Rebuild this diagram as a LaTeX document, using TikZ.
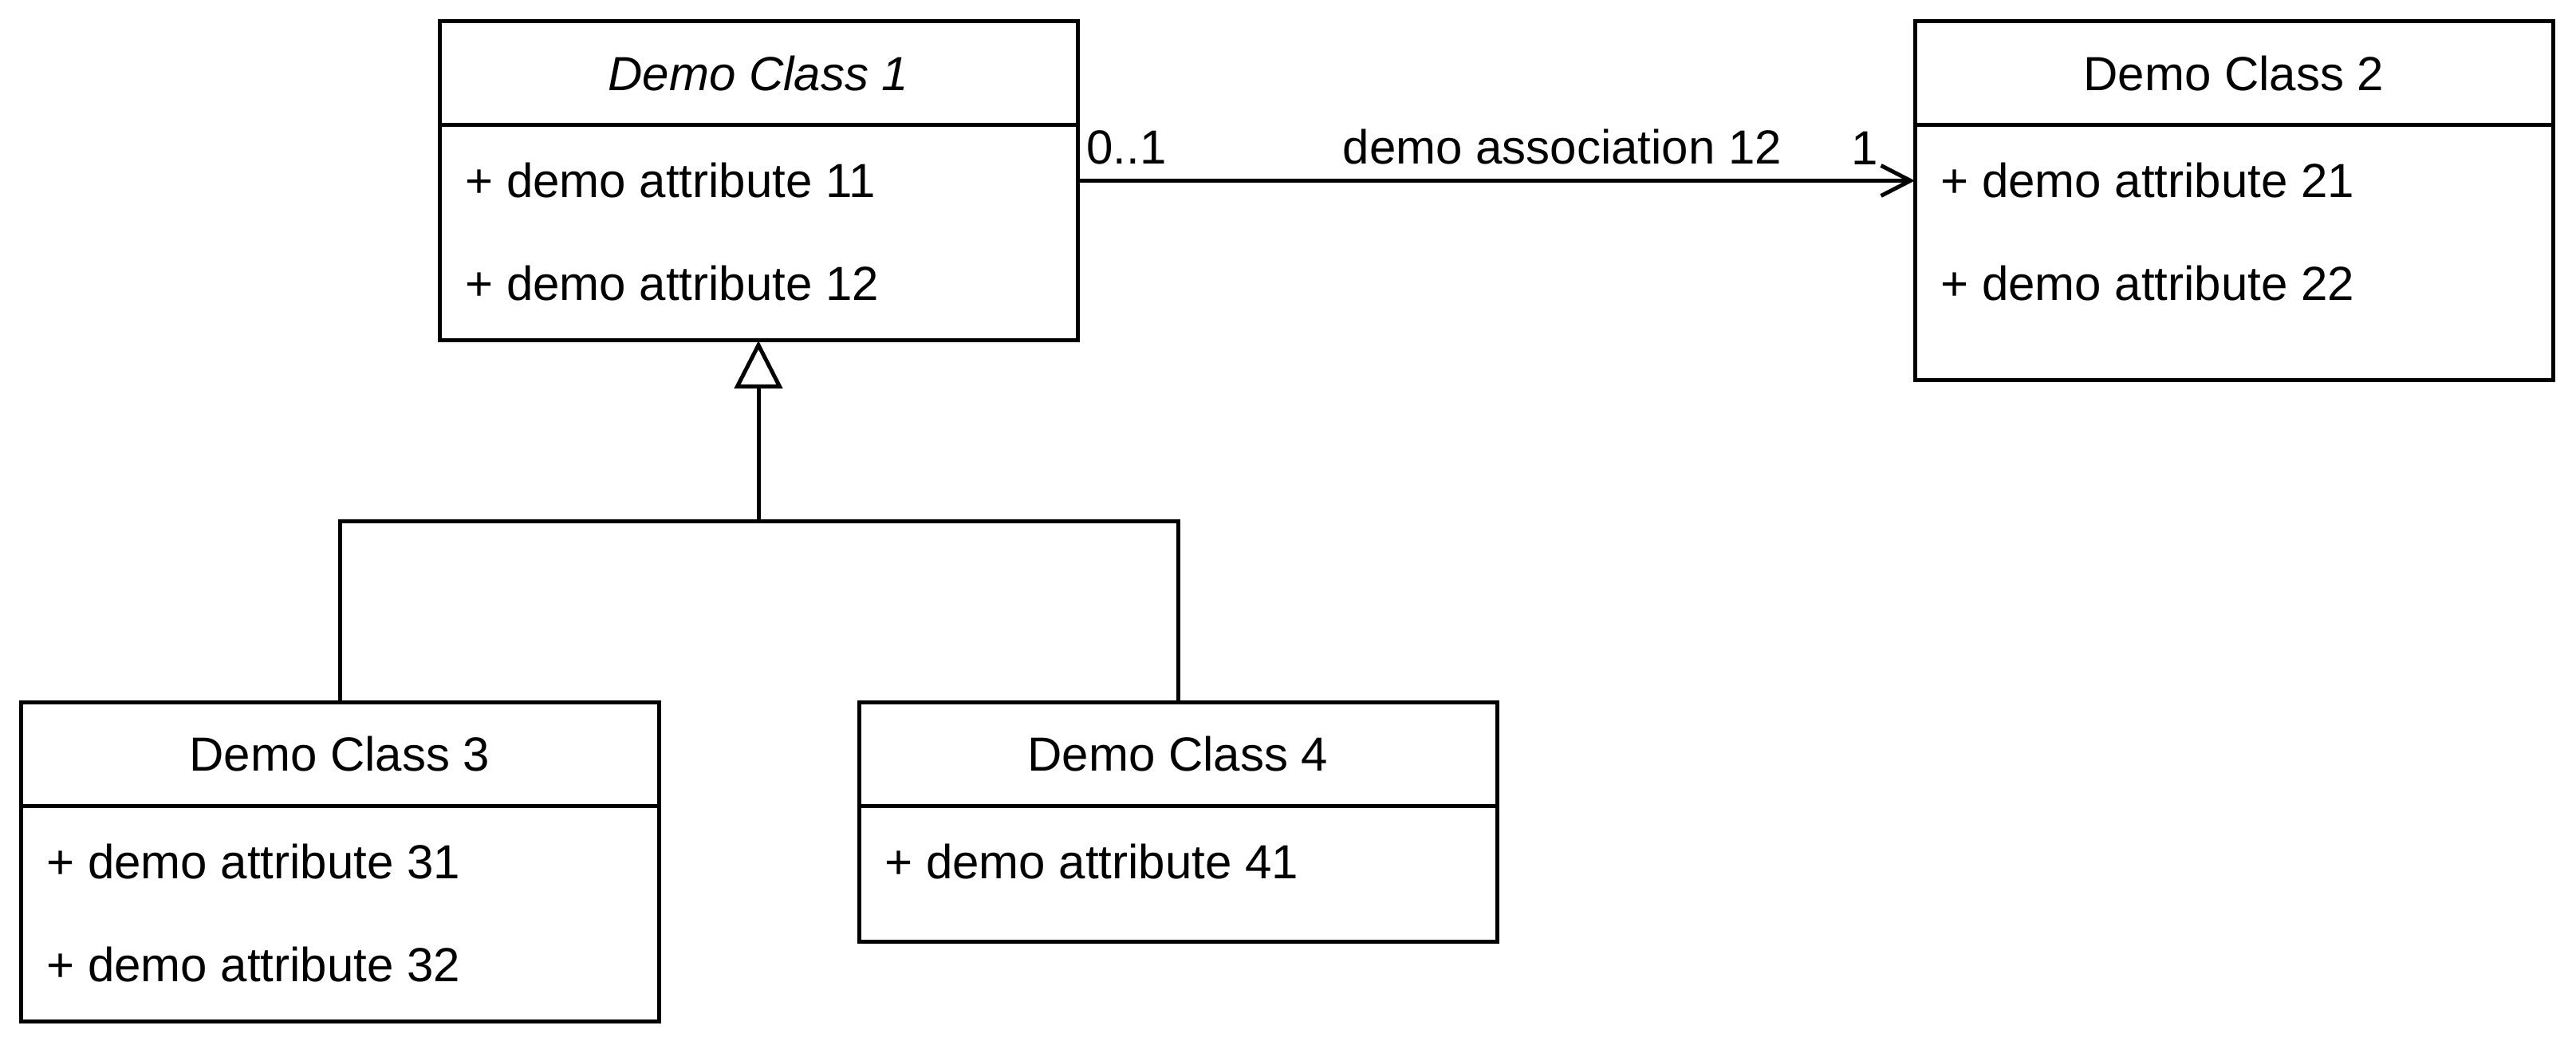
\documentclass[tikz,border=0pt]{standalone}
\usepackage{fontspec}
\setmainfont{Liberation Sans}
\usetikzlibrary{arrows.meta,positioning}
\tikzset{
	classhead/.style={draw, minimum width=160pt, minimum height=26pt, inner sep=0pt, outer sep=0pt, anchor=north west},
	classbody/.style={draw, minimum width=160pt, inner sep=0pt, outer sep=0pt},
	attr/.style={anchor=west, inner sep=0pt},
	mult/.style={inner sep=0pt, anchor=south}
}
\begin{document}
\begin{tikzpicture}[x=1pt, y=-1pt, font=\fontsize{12}{14}\selectfont, line width=1pt, >={Straight Barb[length=7.4pt,width=7.6pt]}]
		\useasboundingbox (0,0) rectangle (646,264);
		\node[classhead] (c1) at (110.2,5.4) {\textit{Demo Class 1}};
		\node[classbody, minimum height=54pt, below=0pt of c1] (c1b) {};
		\node[attr] (a11) at ([shift={(6,13.9)}]c1b.north west) {+ demo attribute 11};
		\node[attr] (a12) at ([shift={(6,39.7)}]c1b.north west) {+ demo attribute 12};
		\node[classhead] (c2) at (480.2,5.4) {Demo Class 2};
		\node[classbody, minimum height=64pt, below=0pt of c2] (c2b) {};
		\node[attr] (a21) at ([shift={(6,13.9)}]c2b.north west) {+ demo attribute 21};
		\node[attr] (a22) at ([shift={(6,39.7)}]c2b.north west) {+ demo attribute 22};
		\node[classhead] (c3) at (5.2,176.1) {Demo Class 3};
		\node[classbody, minimum height=54pt, below=0pt of c3] (c3b) {};
		\node[attr] (a31) at ([shift={(6,13.9)}]c3b.north west) {+ demo attribute 31};
		\node[attr] (a32) at ([shift={(6,39.7)}]c3b.north west) {+ demo attribute 32};
		\node[classhead] (c4) at (215.4,176.1) {Demo Class 4};
		\node[classbody, minimum height=34pt, below=0pt of c4] (c4b) {};
		\node[attr] (a41) at ([shift={(6,13.9)}]c4b.north west) {+ demo attribute 41};
		\coordinate (src) at (a11 -| c1b.east);
		\coordinate (dst) at (a11 -| c2b.west);
		\draw[->] (src) -- (dst);
		\node[mult, anchor=south west] (m01) at (272,41.8) {0..1};
		\node[mult] (assoc) at (391.8,41.8) {demo association 12};
		\node[mult] (m1) at (467.6,41.8) {1};
		\coordinate (fork) at (c1b.south |- 0,130.7);
		\draw (c3.north) |- (fork) -| (c4.north);
		\draw[-{Triangle[open,length=12pt,width=12pt]}] (fork) -- (c1b.south);
	\end{tikzpicture}
\end{document}
